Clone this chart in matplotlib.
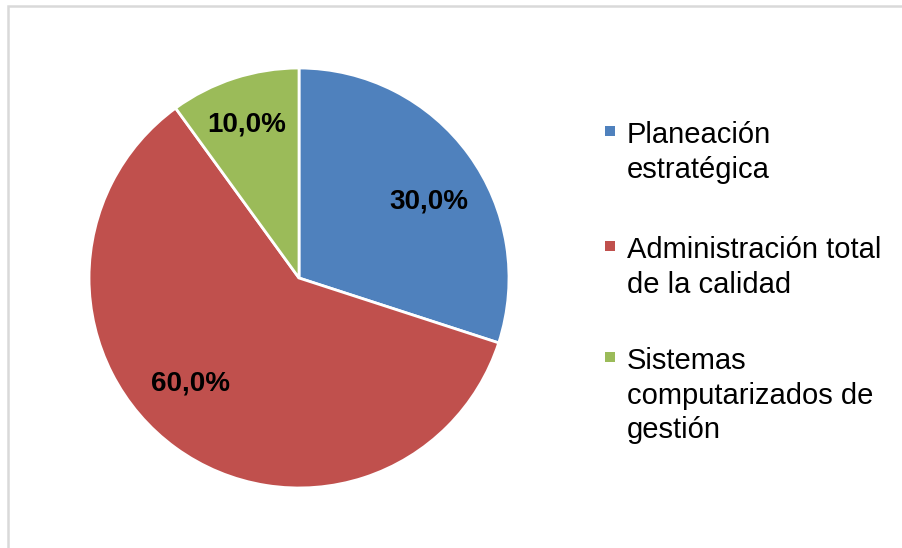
import matplotlib.pyplot as plt
from matplotlib.patches import Rectangle

plt.rcParams['font.family'] = ['Liberation Sans', 'DejaVu Sans']

# Datos del gráfico
categorias = ['Planeación\nestratégica',
              'Administración total\nde la calidad',
              'Sistemas\ncomputarizados de\ngestión']
porcentajes = [30.0, 60.0, 10.0]
colores = ['#4F81BD', '#C0504D', '#9BBB59']

fig = plt.figure(figsize=(9.02, 5.48), dpi=100)

# marco gris del área del gráfico (solo se ven borde superior e izquierdo)
fig.add_artist(Rectangle((8 / 902, -0.5), 2, 0.5 + 1 - 6 / 548,
                         transform=fig.transFigure, fill=False,
                         edgecolor='#d9d9d9', linewidth=1.8))

# pastel
ax = fig.add_axes([0.0987, 0.1095, 0.4656, 0.7664])
wedges, textos, autotextos = ax.pie(
    porcentajes, colors=colores, startangle=90, counterclock=False,
    autopct=lambda p: f'{p:.1f}%'.replace('.', ','), pctdistance=0.73,
    wedgeprops=dict(edgecolor='white', linewidth=2),
    textprops=dict(fontsize=20, fontweight='bold', color='black'))
ax.set_aspect('equal')
ax.set_xlim(-1.0, 1.0)
ax.set_ylim(-1.0, 1.0)

# pequeños ajustes de la posición de las etiquetas
ajustes = [(0.03, -0.067), (-0.086, 0.086), (-0.022, 0.038)]
for txt, (dx, dy) in zip(autotextos, ajustes):
    x, y = txt.get_position()
    txt.set_position((x + dx, y + dy))

# leyenda a la derecha
ax_ley = fig.add_axes([0, 0, 1, 1])
ax_ley.set_xlim(0, 902)
ax_ley.set_ylim(548, 0)
ax_ley.axis('off')
y_inicio = [121, 236, 347]
for nombre, color, y in zip(categorias, colores, y_inicio):
    ax_ley.scatter(610, y + 10, marker='s', s=55, color=color, edgecolors='none')
    ax_ley.text(627, y, nombre, fontsize=21, va='top', ha='left',
                linespacing=1.3)

fig.savefig('out.png', dpi=100)
